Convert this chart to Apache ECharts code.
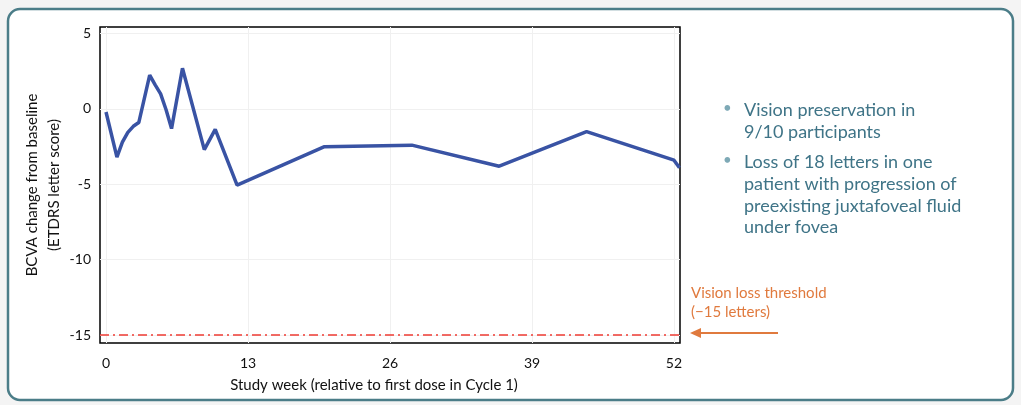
<!DOCTYPE html>
<html><head><meta charset="utf-8">
<script src="https://cdn.jsdelivr.net/npm/echarts@6/dist/echarts.min.js"></script>
<style>html,body{margin:0;padding:0;background:#f4f4f4;}#c{width:1021px;height:405px;}</style>
</head><body><div id="c"></div>
<script>
const weeks = [0, 1, 1.5, 2, 2.5, 3, 4, 4.5, 5, 5.5, 6, 7, 9, 10, 12, 20, 28, 36, 44, 52, 52.5];
const bcva  = [-0.2, -3.2, -2.2, -1.55, -1.15, -0.9, 2.25, 1.6, 1.0, -0.05, -1.3, 2.7, -2.7, -1.35, -5.05, -2.5, -2.4, -3.8, -1.5, -3.4, -3.9];
const xTicks = [0, 13, 26, 39, 52];
const yTicks = [-15, -10, -5, 0, 5];
const threshold = -15;
const bullets = ['Vision preservation in', '9/10 participants', 'Loss of 18 letters in one', 'patient with progression of', 'preexisting juxtafoveal fluid', 'under fovea'];

const F = 'Lato, "Open Sans", sans-serif';
const chart = echarts.init(document.getElementById('c'));
const gridLines = [];
xTicks.forEach(v => gridLines.push({xAxis: v}));
yTicks.forEach(v => gridLines.push({yAxis: v}));
const bulletText = [];
const bulletY = [110, 132, 162, 184, 206, 227];
bullets.forEach((t, i) => {
  bulletText.push({type: 'text', x: 744, y: bulletY[i], style: {text: t, fill: '#3f7487', font: '18px ' + F, verticalAlign: 'middle'}});
});
bulletText.push({type: 'text', x: 723, y: 108, style: {text: '•', fill: '#7ea9b6', font: '15px ' + F, verticalAlign: 'middle'}});
bulletText.push({type: 'text', x: 723, y: 160, style: {text: '•', fill: '#7ea9b6', font: '15px ' + F, verticalAlign: 'middle'}});

chart.setOption({
  animation: false,
  backgroundColor: '#f4f4f4',
  grid: {left: 100, right: 341, top: 27, bottom: 62, show: true, borderColor: '#000', borderWidth: 1.5, backgroundColor: '#fff', z: 1},
  xAxis: {
    type: 'value', min: -0.55, max: 52.55,
    name: 'Study week (relative to first dose in Cycle 1)', nameLocation: 'middle', nameGap: 35, nameMoveOverlap: false,
    nameTextStyle: {fontFamily: F, fontSize: 15, color: '#111', padding: [0, 32, 0, 0]},
    axisLine: {show: false},
    axisTick: {show: true, customValues: xTicks, length: 5, lineStyle: {color: '#000', width: 1.2}},
    axisLabel: {customValues: xTicks, fontFamily: F, fontSize: 14, color: '#111', margin: 13},
    splitLine: {show: false}
  },
  yAxis: {
    type: 'value', min: -15.53, max: 5.44,
    name: 'BCVA change from baseline\n(ETDRS letter score)', nameLocation: 'middle', nameGap: 35, nameMoveOverlap: false,
    nameTextStyle: {fontFamily: F, fontSize: 15, color: '#111', lineHeight: 22},
    axisLine: {show: false},
    axisTick: {show: true, customValues: yTicks, length: 5, lineStyle: {color: '#000', width: 1.2}},
    axisLabel: {customValues: yTicks, fontFamily: F, fontSize: 14, color: '#111', margin: 9},
    splitLine: {show: false}
  },
  series: [{
    type: 'line', data: weeks.map((w, i) => [w, bcva[i]]), showSymbol: false, clip: true,
    lineStyle: {color: '#3953a4', width: 3.5}, z: 5,
    markLine: {silent: true, symbol: 'none', label: {show: false}, lineStyle: {color: '#f0f0f0', width: 1, type: 'solid'}, data: gridLines, z: 2}
  }, {
    type: 'line', data: [], z: 4,
    markLine: {silent: true, symbol: 'none', label: {show: false}, lineStyle: {color: '#ee3b33', width: 1.6, type: [9, 4, 2, 4]}, data: [{yAxis: threshold}]}
  }],
  graphic: [
    {type: 'rect', shape: {x: 8, y: 9, width: 1005, height: 391, r: 12}, style: {fill: '#fff', stroke: '#4b7d88', lineWidth: 2.5}, z: -10, silent: true},
    ...bulletText,
    {type: 'text', x: 691, y: 293, style: {text: 'Vision loss threshold', fill: '#e07a3e', font: '15px ' + F, verticalAlign: 'middle'}},
    {type: 'text', x: 691, y: 312, style: {text: '(\u221215 letters)', fill: '#e07a3e', font: '15px ' + F, verticalAlign: 'middle'}},
    {type: 'line', shape: {x1: 698, y1: 333, x2: 778, y2: 333}, style: {stroke: '#e07a3e', lineWidth: 2}},
    {type: 'polygon', shape: {points: [[690, 333], [701, 328], [701, 338]]}, style: {fill: '#e07a3e'}}
  ]
});
</script></body></html>
